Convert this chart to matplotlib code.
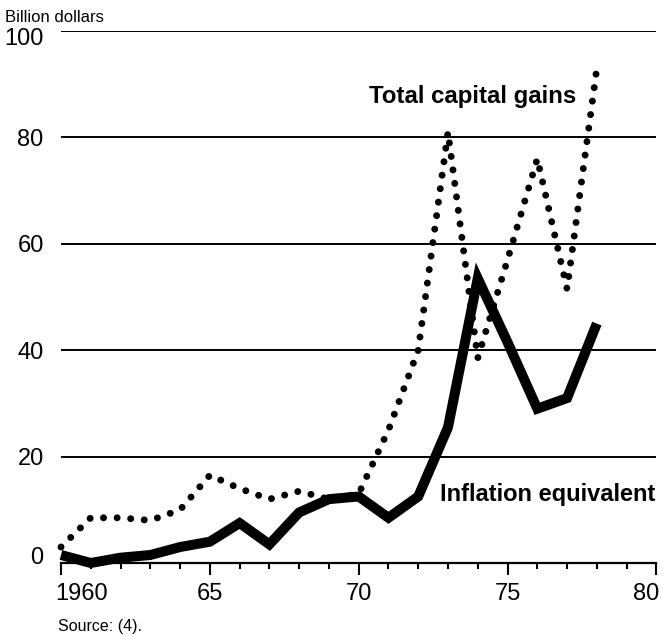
#!/usr/bin/env python3
"""
Capital gains vs inflation equivalent, 1960-78
"""

import matplotlib.pyplot as plt
import numpy as np
from matplotlib.transforms import ScaledTranslation

plt.rcParams["font.family"] = ["Liberation Sans", "DejaVu Sans"]

# Data (billion dollars)
years = [1960, 1961, 1962, 1963, 1964, 1965, 1966, 1967, 1968, 1969,
         1970, 1971, 1972, 1973, 1974, 1975, 1976, 1977, 1978]
total_gains = [3, 8.5, 8.5, 8, 10, 16.5, 14, 12, 13.5, 12,
               13, 25, 40, 81, 38.5, 57, 76, 51.5, 93]
inflation_equiv = [1.5, 0, 1, 1.5, 3, 4, 7.5, 3.5, 9.5, 12,
                   12.5, 8.5, 12.5, 25.5, 53.5, 41.5, 29, 31, 45]

y_ticks = [0, 20, 40, 60, 80, 100]
x_major = [1960, 1965, 1970, 1975, 1980]
x_labels = ["1960", "65", "70", "75", "80"]

fig = plt.figure(figsize=(6.63, 6.35), dpi=100)
ax = fig.add_axes([0.092, 0.1134, 0.898, 0.8378])

# Horizontal rules
for v in y_ticks[1:]:
    ax.axhline(v, color="black", linewidth=1.4, zorder=1)

# Series
ax.plot(years, total_gains, color="black", linewidth=5.0,
        linestyle=(0, (0.01, 1.95)), dash_capstyle="round", zorder=3, clip_on=False)
ax.plot(years, inflation_equiv, color="black", linewidth=7.2,
        solid_joinstyle="miter", solid_capstyle="butt", zorder=4, clip_on=False)

ax.set_xlim(1960, 1980)
ax.set_ylim(0, 100)

for side in ["left", "top", "right"]:
    ax.spines[side].set_visible(False)
ax.spines["bottom"].set_linewidth(1.6)

ax.set_yticks(y_ticks)
ax.set_yticklabels([str(v) for v in y_ticks], fontsize=17)
ax.tick_params(axis="y", length=0, pad=12.5)
yl = ax.get_yticklabels()
yl[0].set_transform(yl[0].get_transform() + ScaledTranslation(0, 0.07, fig.dpi_scale_trans))
yl[-1].set_transform(yl[-1].get_transform() + ScaledTranslation(0, -0.06, fig.dpi_scale_trans))

ax.set_xticks(x_major)
ax.set_xticklabels(x_labels, fontsize=17)
ax.set_xticks(np.arange(1960, 1981, 1), minor=True)
ax.tick_params(axis="x", which="major", direction="out", length=8.6, width=1.5, pad=6)
ax.tick_params(axis="x", which="minor", direction="out", length=4.3, width=1.5)
xl = ax.get_xticklabels()
xl[0].set_horizontalalignment("left")
xl[0].set_transform(xl[0].get_transform() + ScaledTranslation(-0.06, 0, fig.dpi_scale_trans))
xl[-1].set_horizontalalignment("right")
xl[-1].set_transform(xl[-1].get_transform() + ScaledTranslation(0.03, 0, fig.dpi_scale_trans))

# Annotations
ax.text(1977.3, 87.6, "Total capital gains", fontsize=17.3, fontweight="bold",
        ha="right", va="center")
ax.text(1979.95, 12.8, "Inflation equivalent", fontsize=17, fontweight="bold",
        ha="right", va="center")
fig.text(0.008, 0.972, "Billion dollars", fontsize=12, ha="left", va="center")
fig.text(0.088, 0.014, "Source: (4).", fontsize=11.5, ha="left", va="center")

plt.savefig("out.png", dpi=100)
plt.close()
